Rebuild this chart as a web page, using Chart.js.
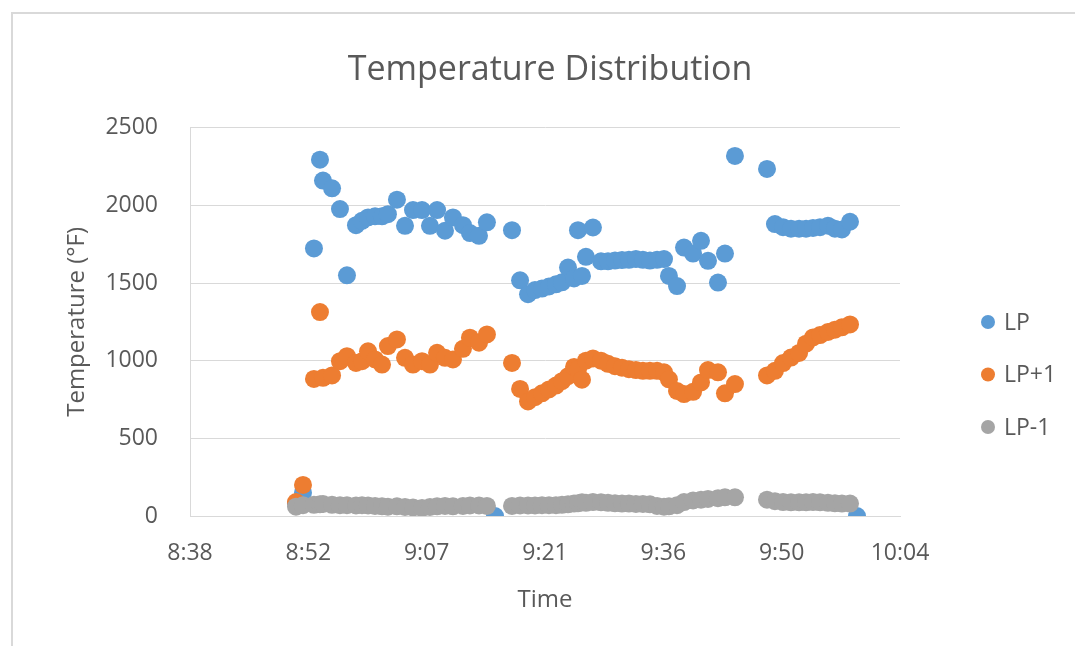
<!DOCTYPE html>
<html>
<head>
<meta charset="utf-8">
<script src="https://cdn.jsdelivr.net/npm/chart.js@4.4.0/dist/chart.umd.min.js"></script>
<style>
  html, body { margin: 0; padding: 0; background: #fff; }
  #wrap { position: relative; width: 1075px; height: 646px; overflow: hidden; }
  #frame { position: absolute; left: 11px; top: 12px; width: 1100px; height: 700px; border: 2px solid #d9d9d9; }
  canvas { position: absolute; left: 0; top: 0; }
</style>
</head>
<body>
<div id="wrap">
  <div id="frame"></div>
  <canvas id="tempChart" width="1075" height="646"></canvas>
</div>
<script>
// sample times (h:mm:ss)
const times = [
  '8:51:18','8:52:09','8:53:29','8:54:13','8:54:35','8:55:41','8:56:39','8:57:30','8:58:36','8:59:20',
  '9:00:04','9:00:55','9:01:46','9:02:29','9:03:35','9:04:34','9:05:32','9:06:38','9:07:36','9:08:28',
  '9:09:26','9:10:24','9:11:37','9:12:28','9:13:34','9:14:32','9:15:31',
  '9:17:35','9:18:34','9:19:32','9:20:23','9:21:14','9:22:05','9:22:56','9:23:40','9:24:24','9:25:08',
  '9:25:37','9:26:06','9:26:35','9:27:26','9:28:25','9:29:16','9:30:07','9:30:58','9:31:49','9:32:40',
  '9:33:31','9:34:22','9:35:14','9:36:05','9:36:41','9:37:40','9:38:31','9:39:37','9:40:35','9:41:26',
  '9:42:39','9:43:30','9:44:43',
  '9:48:37','9:49:35','9:50:34','9:51:32','9:52:31','9:53:22','9:54:13','9:55:04','9:56:02','9:56:53',
  '9:57:44','9:58:43','9:59:34'
];

const lp = [
  80, 150, 1723, 2295, 2160, 2110, 1977, 1550, 1873, 1901,
  1923, 1930, 1930, 1944, 2037, 1869, 1970, 1970, 1869, 1970,
  1837, 1923, 1873, 1822, 1804, 1891, 0,
  1841, 1518, 1428, 1455, 1465, 1478, 1492, 1505, 1600, 1530,
  1841, 1546, 1669, 1858, 1640, 1640, 1645, 1648, 1650, 1655,
  1650, 1645, 1650, 1655, 1546, 1481, 1729, 1690, 1772, 1643,
  1503, 1690, 2319,
  2235, 1880, 1860, 1850, 1850, 1850, 1855, 1860, 1870, 1850,
  1845, 1895, 0
];

const lpPlus1 = [
  90, 200, 883, 1313, 890, 905, 997, 1029, 986, 997,
  1061, 1008, 975, 1094, 1137, 1019, 975, 997, 975, 1051,
  1019, 1008, 1077, 1148, 1116, 1169, null,
  986, 818, 738, 765, 790, 815, 840, 868, 900, 960,
  945, 878, 1000, 1015, 1000, 980, 965, 955, 945, 940,
  935, 935, 935, 925, 880, 805, 785, 800, 860, 940,
  925, 790, 850,
  905, 935, 985, 1020, 1050, 1110, 1150, 1165, 1185, 1200,
  1215, 1234, null
];

const lpMinus1 = [
  60, 70, 72, 75, 78, 72, 70, 70, 68, 70,
  68, 65, 62, 60, 62, 58, 55, 52, 58, 62,
  65, 62, 65, 68, 68, 65, null,
  65, 68, 68, 68, 70, 70, 70, 72, 75, 80,
  82, 88, 85, 90, 88, 85, 82, 80, 80, 78,
  78, 75, 65, 60, 62, 70, 90, 100, 105, 110,
  115, 120, 120,
  105, 95, 90, 88, 88, 88, 90, 88, 85, 82,
  80, 80, null
];

// x axis ticks are fractions of a day, like the spreadsheet
const tickDays = [0.36, 0.37, 0.38, 0.39, 0.40, 0.41, 0.42];
const tickLabels = ['8:38', '8:52', '9:07', '9:21', '9:36', '9:50', '10:04'];
const yTicks = [0, 500, 1000, 1500, 2000, 2500];

const textColor = '#595959';
const gridColor = '#d9d9d9';

function toMinutes(s) {
  const [h, m, sec] = s.split(':').map(Number);
  return h * 60 + m + sec / 60;
}

function points(vals) {
  return times.map((t, i) => ({ x: toMinutes(t), y: vals[i] })).filter(p => p.y !== null);
}

// legend drawn to the right of the plot, like the Excel one
const sideLegend = {
  id: 'sideLegend',
  afterDraw(chart) {
    const ctx = chart.ctx;
    const x = chart.chartArea.right + 88;
    ctx.save();
    ctx.font = '23px "Open Sans"';
    ctx.textBaseline = 'middle';
    chart.data.datasets.forEach((ds, i) => {
      const y = 322 + i * 52.5;
      ctx.fillStyle = ds.backgroundColor;
      ctx.beginPath();
      ctx.arc(x, y, 7, 0, Math.PI * 2);
      ctx.fill();
      ctx.fillStyle = textColor;
      ctx.fillText(ds.label, x + 16, y + 1);
    });
    ctx.restore();
  }
};

const ctx = document.getElementById('tempChart');

new Chart(ctx, {
  type: 'scatter',
  data: {
    datasets: [
      { label: 'LP', data: points(lp), backgroundColor: '#5b9bd5', order: 3 },
      { label: 'LP+1', data: points(lpPlus1), backgroundColor: '#ed7d31', order: 2 },
      { label: 'LP-1', data: points(lpMinus1), backgroundColor: '#a5a5a5', order: 1 }
    ]
  },
  options: {
    responsive: false,
    animation: false,
    layout: { padding: { left: 25, right: 0, top: 0, bottom: 0 } },
    elements: {
      point: { radius: 9, hoverRadius: 9, borderWidth: 0 }
    },
    plugins: {
      legend: { display: false },
      tooltip: { enabled: false },
      title: {
        display: true,
        text: 'Temperature Distribution',
        color: textColor,
        font: { family: 'Open Sans', size: 34, weight: 'normal' },
        padding: { top: 50, bottom: 37 }
      }
    },
    scales: {
      x: {
        type: 'linear',
        min: tickDays[0] * 1440,
        max: tickDays[tickDays.length - 1] * 1440,
        afterBuildTicks: (scale) => {
          scale.ticks = tickDays.map(d => ({ value: d * 1440 }));
        },
        afterFit: (scale) => { scale.height = 130; },
        grid: { display: false },
        border: { color: gridColor, width: 1 },
        ticks: {
          color: textColor,
          font: { family: 'Open Sans', size: 23 },
          padding: 16,
          maxRotation: 0,
          callback: (v, i) => tickLabels[i]
        },
        title: {
          display: true,
          text: 'Time',
          color: textColor,
          font: { family: 'Open Sans', size: 24 },
          padding: { top: 0, bottom: 31 }
        }
      },
      y: {
        min: 0,
        max: 2500,
        afterBuildTicks: (scale) => {
          scale.ticks = yTicks.map(v => ({ value: v }));
        },
        afterFit: (scale) => { scale.width = 165; },
        grid: { color: gridColor, lineWidth: 1, drawTicks: false },
        border: { color: gridColor, width: 1 },
        ticks: {
          color: textColor,
          font: { family: 'Open Sans', size: 23 },
          padding: 32,
          callback: (v) => String(v)
        },
        title: {
          display: true,
          text: 'Temperature (°F)',
          color: textColor,
          font: { family: 'Open Sans', size: 24 },
          padding: { top: 38, bottom: 0 }
        }
      },
      // empty axis that only keeps room for the legend on the right
      legendRoom: {
        type: 'linear',
        position: 'right',
        display: true,
        afterFit: (scale) => { scale.width = 175; },
        grid: { display: false },
        border: { display: false },
        ticks: { display: false }
      }
    }
  },
  plugins: [sideLegend]
});
</script>
</body>
</html>
